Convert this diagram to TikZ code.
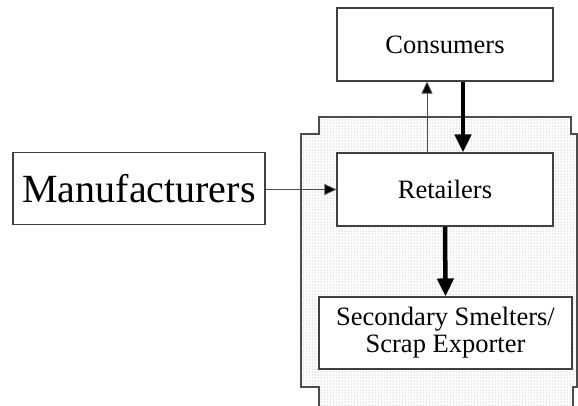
\documentclass[tikz,border=0pt]{standalone}
\usepackage{fontspec}
\setmainfont{Liberation Serif}
\usetikzlibrary{arrows.meta,patterns}

\tikzset{
  stage/.style={draw=black!75, line width=1.1pt, fill=white, rectangle,
    inner sep=0pt, align=center, text=black},
  thinflow/.style={draw=black!70, line width=0.9pt,
    -{Triangle[length=12pt,width=11pt,fill=black]}},
  thickflow/.style={draw=black, line width=4.5pt,
    -{Triangle[length=18pt,width=16pt]}},
  zone/.style={draw=black!70, line width=1.3pt, pattern=dots,
    pattern color=black!45},
  midtext/.style={font=\fontsize{26.5}{27}\selectfont},
  bigtext/.style={font=\fontsize{40}{42}\selectfont}
}

\begin{document}
\begin{tikzpicture}[x=1pt,y=-1pt]
  \useasboundingbox (0,0) rectangle (578,405);
  \clip (0,0) rectangle (578,405);

  % recycling zone behind retailers and smelters
  \path[zone] (319,117) -- (571,117) -- (571,134) -- (577,134) -- (577,387)
    -- (573,387) -- (573,420) -- (319,420) -- (319,387) -- (301,387)
    -- (301,134) -- (319,134) -- cycle;

  \node[stage, midtext, minimum width=216pt, minimum height=73pt]
    (cons) at (445,44.5) {Consumers};
  \node[stage, midtext, minimum width=216pt, minimum height=73pt]
    (ret) at (445,189.5) {Retailers};
  \node[stage, midtext, minimum width=253pt, minimum height=72pt]
    (sec) at (445.5,333) {Secondary Smelters/\\Scrap Exporter};
  \node[stage, bigtext, minimum width=252pt, minimum height=72pt]
    (man) at (139,188.5) {Manufacturers};

  % flows between stages
  \draw[thinflow] (man.east |- ret.west) -- (ret.west);
  \draw[thinflow] (ret.north -| 427,0) -- (cons.south -| 427,0);
  \draw[thickflow] (cons.south -| 463,0) -- (ret.north -| 463,0);
  \draw[thickflow] (ret.south) -- (sec.north);
\end{tikzpicture}
\end{document}
